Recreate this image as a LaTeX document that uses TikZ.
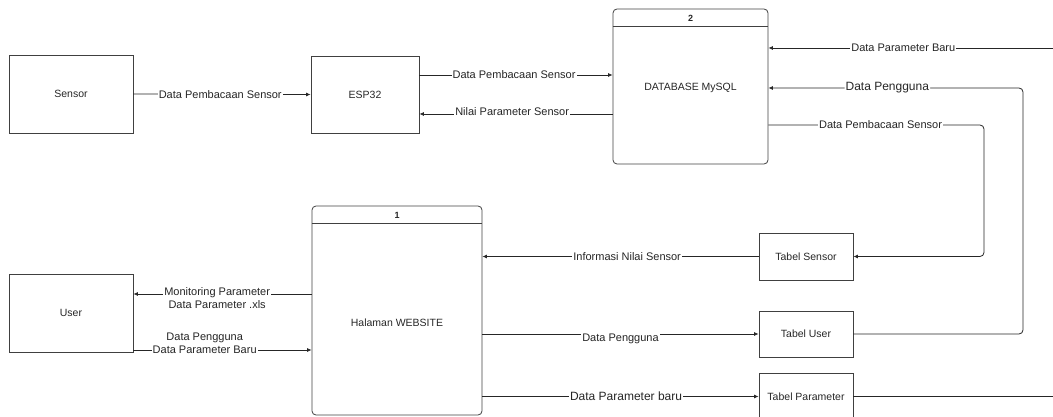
\documentclass[tikz,border=0pt]{standalone}
\usepackage{fontspec}
\setmainfont{Liberation Sans}
\usetikzlibrary{arrows.meta,calc}
\begin{document}
\begin{tikzpicture}[x=1pt,y=-1pt,
  box/.style={draw=black!75,line width=0.8pt,inner sep=0pt,font=\fontsize{10.5}{12}\selectfont,text=black!85},
  proc/.style={box,rounded corners=4pt},
  tbl/.style={box,minimum width=94pt,minimum height=47pt},
  txt/.style={inner sep=0pt,font=\fontsize{10.5}{12}\selectfont,text=black!85},
  num/.style={inner sep=0pt,font=\fontsize{9}{10}\selectfont\bfseries,text=black!85},
  flow/.style={draw=black!85,line width=0.8pt,-{Latex[length=4.5pt,width=4pt]}},
  plain/.style={draw=black!85,line width=0.8pt},
  lbl/.style={fill=white,inner sep=1pt,font=\fontsize{11}{13}\selectfont,text=black!85},
  lblbig/.style={lbl,font=\fontsize{12}{14}\selectfont}]
\useasboundingbox (0,0) rectangle (1053,417);

% level coordinates
\coordinate (y48) at (0,48);
\coordinate (y75) at (0,75);
\coordinate (y114) at (0,114);
\coordinate (y125) at (0,125);
\coordinate (y294) at (0,294);
\coordinate (y350) at (0,350);

% nodes
\node[box,minimum width=124pt,minimum height=78pt] (sensor) at (71,94) {Sensor};
\node[box,minimum width=108pt,minimum height=77pt] (esp) at (365,94.5) {ESP32};
\node[proc,minimum width=155pt,minimum height=155pt] (db) at (690.5,86.5) {};
\draw[draw=black!75,line width=0.8pt] ([yshift=-18pt]db.north west) -- ([yshift=-18pt]db.north east);
\node[num] (dbn) at (690.5,18) {2};
\node[txt] (dbt) at (690.5,88) {DATABASE MySQL};

\node[box,minimum width=124pt,minimum height=78pt] (user) at (71,313) {User};
\node[proc,minimum width=170pt,minimum height=209pt] (web) at (397,310.5) {};
\draw[draw=black!75,line width=0.8pt] ([yshift=-18pt]web.north west) -- ([yshift=-18pt]web.north east);
\node[num] (webn) at (397,215) {1};
\node[txt] (webt) at (397,323) {Halaman WEBSITE};

\node[tbl] (tsen) at (806,256.5) {Tabel Sensor};
\node[tbl,minimum height=46pt] (tuser) at (806,334) {Tabel User};
\node[tbl] (tpar) at (806,396.5) {Tabel Parameter};

\coordinate (edgeA) at (1053,48);
\coordinate (edgeB) at (1053,396.5);
\coordinate (cu) at (1023,88);
\coordinate (cs1) at (984,125);
\coordinate (cs2) at (984,256.5);

% connectors
\path[flow] (sensor.east) -- node[lbl,pos=0.49]{Data Pembacaan Sensor} (esp.west);
\path[flow] (esp.east |- y75) -- node[lbl,pos=0.49]{Data Pembacaan Sensor} (db.west |- y75);
\path[flow] (db.west |- y114) -- node[lbl,pos=0.52,yshift=2pt]{Nilai Parameter Sensor} (esp.east |- y114);

\path[flow] (edgeA) -- node[lbl,pos=0.526]{Data Parameter Baru} (db.east |- y48);
\path[flow,rounded corners=4pt] (tuser.east) -| (cu) -- node[lblbig,pos=0.533]{Data Pengguna} (db.east |- cu);
\path[flow,rounded corners=4pt] (db.east |- y125) -- node[lbl,pos=0.52]{Data Pembacaan Sensor} (cs1) -- (cs2) -- (tsen.east);

\path[flow] (web.west |- y294) -- node[lbl,pos=0.53,align=center,yshift=-4.5pt]{Monitoring Parameter\\Data Parameter .xls} (user.east |- y294);
\path[flow] (user.east |- y350) -- node[lbl,pos=0.40,align=center,yshift=6.5pt]{Data Pengguna\\Data Parameter Baru} (web.west |- y350);

\path[flow] (tsen.west) -- node[lbl,pos=0.476]{Informasi Nilai Sensor} (web.east |- tsen.west);
\path[flow] (web.east |- tuser.west) -- node[lbl,pos=0.5,yshift=-5pt]{Data Pengguna} (tuser.west);
\path[flow] (web.east |- tpar.west) -- node[lblbig,pos=0.52]{Data Parameter baru} (tpar.west);
\path[plain] (tpar.east) -- (edgeB);
\end{tikzpicture}
\end{document}
